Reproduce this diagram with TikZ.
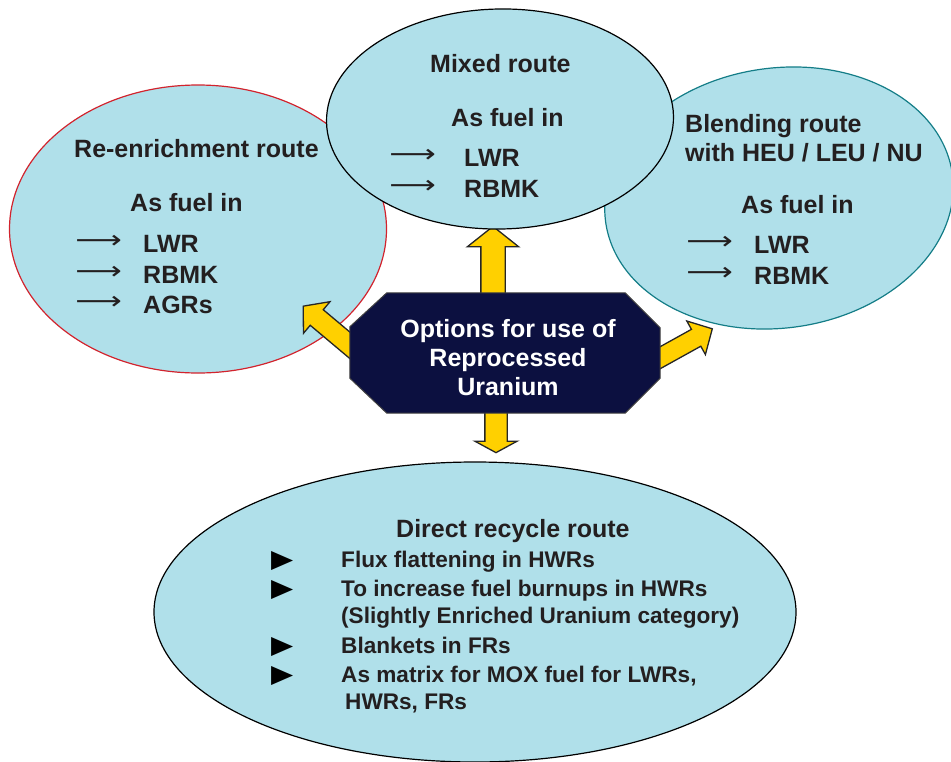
\documentclass[tikz,border=0pt]{standalone}
\usepackage{fontspec}
\setmainfont{Liberation Sans}
\newfontfamily\symfont{DejaVu Sans}
\usetikzlibrary{shapes,arrows,positioning,calc}

\definecolor{bubble}{RGB}{176,224,234}
\definecolor{navy}{RGB}{12,16,64}
\definecolor{gold}{RGB}{255,208,0}
\definecolor{redline}{RGB}{210,35,45}
\definecolor{tealline}{RGB}{20,125,135}
\definecolor{ink}{RGB}{35,31,32}

\begin{document}
\begin{tikzpicture}[
    x=1pt, y=-1pt,
    route/.style={ellipse, draw=black, fill=bubble, line width=1.2pt, inner sep=0pt},
    hubline/.style={draw=black!75, fill=navy, line width=1pt},
    fat/.style={single arrow, draw=black!85, fill=gold, line width=1.3pt, inner xsep=0pt, minimum width=0pt, anchor=tail},
    txt/.style={font=\bfseries\fontsize{25}{30}\selectfont, text=ink, inner sep=0pt, anchor=base west},
    pointer/.style={txt, font=\symfont\fontsize{25}{30}\selectfont, xscale=1.3},
    bullet/.style={txt, font=\symfont\fontsize{25}{30}\selectfont, text=black, xscale=1.15},
    item/.style={txt, font=\bfseries\fontsize{22.6}{27}\selectfont}
]
    \useasboundingbox (0,0) rectangle (951,761);

    % the three routes behind the hub
    \node [route, draw=redline, minimum width=377pt, minimum height=288pt] (reenrich) at (198,229) {};
    \node [route, draw=tealline, rotate=8, minimum width=350pt, minimum height=260pt] (blend) at (779,198) {};
    \node [route, minimum width=642pt, minimum height=300pt] (direct) at (475,612) {};

    % yellow arrows out of the hub
    \coordinate (hubc) at (505,353);
    \node [fat, rotate=90, inner ysep=11.5pt, single arrow head extend=13.5pt, single arrow tip angle=103, minimum height=73pt] (toMixed) at ($(hubc)+(-12,-53)$) {};
    \node [fat, rotate=-90, inner ysep=10.5pt, single arrow head extend=10pt, single arrow tip angle=123, minimum height=47pt] (toDirect) at ($(hubc)+(-9,52)$) {};
    \node [fat, rotate=140, inner ysep=9.5pt, single arrow head extend=10.5pt, single arrow tip angle=99, minimum height=80pt] (toReenrich) at ($(hubc)+(-140,5)$) {};
    \node [fat, rotate=29, inner ysep=9pt, single arrow head extend=9.5pt, single arrow tip angle=92, minimum height=74pt] (toBlend) at ($(hubc)+(142,12)$) {};

    \node [route, rotate=1, minimum width=347pt, minimum height=220pt] (mixed) at (500,119) {};

    % the hub itself, an octagon round a plain box
    \node [minimum width=310pt, minimum height=120pt, inner sep=0pt] (hub) at (hubc) {};
    \draw [hubline] ($(hub.north west)+(37,0)$) -- ($(hub.north east)+(-35,0)$) -- ($(hub.north east)+(0,35)$)
        -- ($(hub.south east)+(0,-35)$) -- ($(hub.south east)+(-35,0)$) -- ($(hub.south west)+(37,0)$)
        -- ($(hub.south west)+(0,-35)$) -- ($(hub.north west)+(0,34)$) -- cycle;
    \node [txt, anchor=center, align=center, text=white, font=\bfseries\fontsize{25}{29}\selectfont] (hubtext) at (508,358) {Options for use of\\Reprocessed\\Uranium};

    % re-enrichment route
    \node [txt] (reTitle) at (74,157) {Re-enrichment route};
    \node [txt] (reFuel) at (130,211) {As fuel in};
    \foreach \yy/\t [count=\i] in {252/LWR,283/RBMK,313/AGRs} {
        \node [pointer] (reArr\i) at (75,\yy-4) {⟶};
        \node [txt] (reItem\i) at (143,\yy) {\t};
    }

    % mixed route
    \node [txt] (mxTitle) at (430,72) {Mixed route};
    \node [txt] (mxFuel) at (451,126) {As fuel in};
    \foreach \yy/\t [count=\i] in {166/LWR,197/RBMK} {
        \node [pointer] (mxArr\i) at (389,\yy-4) {⟶};
        \node [txt] (mxItem\i) at (464,\yy) {\t};
    }

    % blending route
    \node [txt] (blTitle) at (685,132) {Blending route};
    \node [txt] (blWith) at (685,161) {with HEU / LEU / NU};
    \node [txt] (blFuel) at (741,213) {As fuel in};
    \foreach \yy/\t [count=\i] in {253/LWR,284/RBMK} {
        \node [pointer] (blArr\i) at (686,\yy-4) {⟶};
        \node [txt] (blItem\i) at (754,\yy) {\t};
    }

    % direct recycle route
    \node [txt] (drTitle) at (396,537) {Direct recycle route};
    \foreach \yy [count=\i] in {567,596,653,682} {
        \node [bullet] (drDot\i) at (271,\yy) {▶};
    }
    \node [item] (drItem1) at (341,567) {Flux flattening in HWRs};
    \node [item] (drItem2) at (341,596) {To increase fuel burnups in HWRs};
    \node [item] (drItem2b) at (341,623) {(Slightly Enriched Uranium category)};
    \node [item] (drItem3) at (341,653) {Blankets in FRs};
    \node [item] (drItem4) at (341,682) {As matrix for MOX fuel for LWRs,};
    \node [item] (drItem4b) at (345,709) {HWRs, FRs};
\end{tikzpicture}
\end{document}
